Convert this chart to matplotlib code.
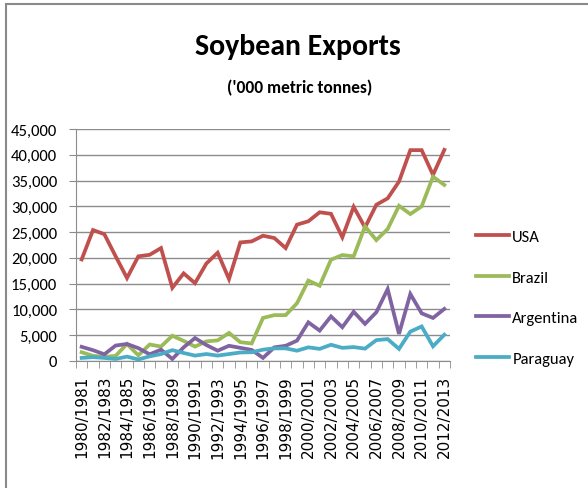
import numpy as np
import matplotlib
matplotlib.use("Agg")
import matplotlib.pyplot as plt
from matplotlib.patches import Rectangle

# soybean exports, '000 metric tonnes
seasons = ["%d/%d" % (y, y + 1) for y in range(1980, 2013)]
usa = [19700, 25400, 24600, 20300, 16100, 20300, 20600, 21900, 14200, 17000,
       15100, 18900, 21000, 15900, 23000, 23200, 24300, 23850, 21900, 26450,
       27100, 28850, 28550, 24000, 29900, 25900, 30300, 31550, 34800, 40900,
       40900, 36100, 40950]
brazil = [1700, 1000, 800, 1000, 3300, 1100, 3200, 2800, 4900, 3900,
          2800, 3800, 4000, 5450, 3650, 3400, 8350, 8900, 8900, 11200,
          15600, 14600, 19650, 20550, 20300, 26100, 23450, 25600, 30100, 28500,
          30000, 35750, 34150]
argentina = [2750, 2100, 1300, 3000, 3300, 2500, 1300, 2200, 400, 2650,
             4450, 3100, 2000, 2950, 2550, 2150, 600, 2650, 2950, 3950,
             7500, 5900, 8650, 6550, 9550, 7200, 9450, 13950, 5250, 13000,
             9250, 8350, 10100]
paraguay = [600, 750, 600, 400, 850, 300, 900, 1350, 2100, 1550,
            1050, 1350, 1050, 1350, 1650, 1700, 2200, 2450, 2450, 2000,
            2650, 2350, 3150, 2550, 2700, 2400, 4050, 4250, 2350, 5700,
            6700, 2850, 5100]

series = [("USA", usa, "#C0504D"),
          ("Brazil", brazil, "#9BBB59"),
          ("Argentina", argentina, "#8064A2"),
          ("Paraguay", paraguay, "#4BACC6")]

calibri = ["Carlito", "DejaVu Sans"]

fig = plt.figure(figsize=(5.88, 4.89), dpi=100)
fig.patches.append(Rectangle((6 / 588, -0.1), 1.2, 1.1 - 5 / 489, transform=fig.transFigure,
                             fill=False, edgecolor="#8a8a8a", linewidth=1.5))

ax = fig.add_axes([76 / 588, 1 - 362 / 489, 374 / 588, 232 / 489])
x = np.arange(len(seasons))
for name, vals, col in series:
    ax.plot(x, vals, color=col, linewidth=2.7, label=name, solid_joinstyle="miter")

ax.set_xlim(-0.5, len(seasons) - 0.5)
ax.set_ylim(0, 45000)
ax.set_yticks(np.arange(0, 45001, 5000))
ax.set_yticklabels(["{:,}".format(v) for v in range(0, 45001, 5000)],
                   family=calibri, fontsize=12)
ax.grid(axis="y", color="#8c8c8c", linewidth=1)
ax.set_axisbelow(True)

ax.set_xticks(x[::2])
ax.set_xticklabels(seasons[::2], rotation=90, fontsize=11, family="DejaVu Sans")
ax.set_xticks(np.arange(-0.5, len(seasons)), minor=True)
ax.tick_params(axis="x", which="major", length=0, pad=10)
ax.tick_params(axis="x", which="minor", length=5, color="#8c8c8c")
ax.tick_params(axis="y", length=5, color="#8c8c8c", pad=8.5)

for s in ["top", "right"]:
    ax.spines[s].set_visible(False)
for s in ["left", "bottom"]:
    ax.spines[s].set_color("#8c8c8c")

ax.legend(loc="center left", bbox_to_anchor=(1.07, 0.274), frameon=False,
          borderaxespad=0, borderpad=0, handlelength=1.95, handletextpad=0.22,
          labelspacing=1.55, prop={"family": calibri, "size": 12})

fig.text(298 / 588, 1 - 47 / 489, "Soybean Exports", ha="center", va="center",
         fontsize=21.5, fontweight="bold", family=calibri)
fig.text(300 / 588, 1 - 88 / 489, "('000 metric tonnes)", ha="center", va="center",
         fontsize=12.5, fontweight="bold", family=calibri)

fig.savefig("out.png", dpi=100)
